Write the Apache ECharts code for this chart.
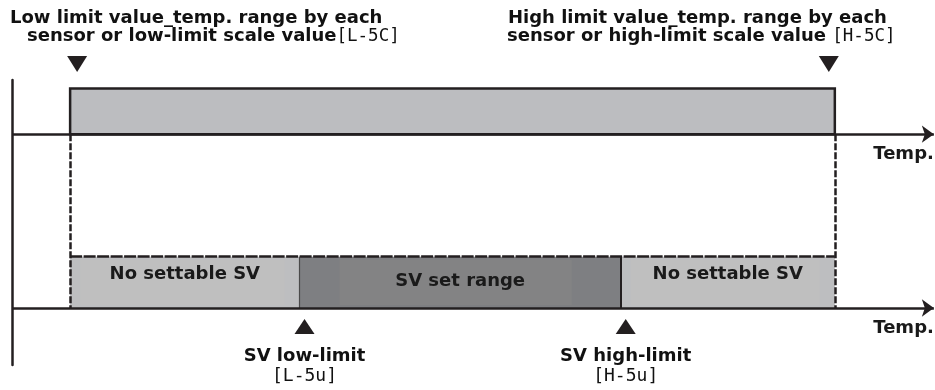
<!DOCTYPE html>
<html><head><meta charset="utf-8">
<script src="https://cdn.jsdelivr.net/npm/echarts@6/dist/echarts.min.js"></script>
<style>html,body{margin:0;padding:0;background:#fff}#c{width:935px;height:390px}</style>
</head><body><div id="c"></div>
<script>
// ---------------- data ----------------
const scaleLimitValues = [0, 100];                 // L-SC, H-SC
const scaleLimitCodes = ['[L-5C]', '[H-5C]'];
const scaleLimitTitles = [
  ['Low limit value_temp. range by each', 'sensor or low-limit scale value'],
  ['High limit value_temp. range by each', 'sensor or high-limit scale value ']
];
const svLimitValues = [30, 72];                    // L-SV, H-SV
const svLimitNames = ['SV low-limit', 'SV high-limit'];
const svLimitCodes = ['[L-5u]', '[H-5u]'];
const segmentNames = ['No settable SV', 'SV set range', 'No settable SV'];
const segmentStart = [0, 30, 72];
const segmentEnd = [30, 72, 100];
const axisName = 'Temp.';

// ---------------- layout / style ----------------
const X_MIN = -7.6, X_MAX = 113.1, Y_MAX = 50;
const LOWER_AXIS = 10, LOWER_TOP = 19, UPPER_AXIS = 40.5, UPPER_TOP = 48.5;
const DOWN_MARK_Y = 52.8, UP_MARK_Y = 6.75, ARROW_END = 112.95;
const INK = '#231f20';
const FONT = '"DejaVu Sans", sans-serif';
const FS = 18;
const SEG_FILL = ['#bdbec0', '#7e7f82', '#bdbec0'];
const SEG_INNER = ['#bfbfbf', '#838384', '#bfbfbf'];
const SEG_INSET = [[10, 15], [40, 49], [10, 15]];

const chart = echarts.init(document.getElementById('c'), null, {renderer: 'canvas'});

const segData = segmentNames.map((n, i) => [segmentStart[i], segmentEnd[i], i]);

function segRender(params, api) {
  const i = api.value(2);
  const p0 = api.coord([api.value(0), LOWER_TOP]);
  const p1 = api.coord([api.value(1), LOWER_AXIS]);
  const w = p1[0] - p0[0], h = p1[1] - p0[1];
  const cx = (p0[0] + p1[0]) / 2;
  const cy = (p0[1] + p1[1]) / 2 + (i === 1 ? -1 : -8);
  const ins = SEG_INSET[i];
  return {
    type: 'group',
    children: [
      {type: 'rect', shape: {x: p0[0], y: p0[1], width: w, height: h}, style: {fill: SEG_FILL[i]}},
      {type: 'rect', shape: {x: p0[0] + ins[0], y: p0[1] + 3, width: w - ins[0] - ins[1], height: h - 6}, style: {fill: SEG_INNER[i]}},
      {type: 'text', x: cx, y: cy,
       style: {text: segmentNames[i], font: 'bold ' + FS + 'px ' + FONT, fill: '#1a1a1a', align: 'center', verticalAlign: 'middle'}}
    ]
  };
}

function scaleRender(params, api) {
  const p0 = api.coord([api.value(0), UPPER_TOP]);
  const p1 = api.coord([api.value(1), UPPER_AXIS]);
  return {type: 'rect', shape: {x: p0[0], y: p0[1], width: p1[0] - p0[0], height: p1[1] - p0[1]},
    style: {fill: '#bcbdc0', stroke: INK, lineWidth: 2.5}};
}

const solid = {type: 'solid', width: 2.5, color: INK};
const dashV = {type: [7, 2], width: 2.5, color: INK};
const dashH = {type: [12, 1.5], width: 2.5, color: INK};

const tempLabel = {show: true, position: 'insideEndBottom', formatter: axisName, distance: [0, 11],
  color: '#1a1a1a', fontWeight: 'bold', fontSize: FS, fontFamily: FONT};

const markLines = [
  ...scaleLimitValues.map(v => [{coord: [v, UPPER_AXIS], symbol: 'none', lineStyle: dashV, label: {show: false}},
                                {coord: [v, LOWER_AXIS], symbol: 'none'}]),
  [{coord: [scaleLimitValues[0], LOWER_TOP], symbol: 'none', lineStyle: dashH, label: {show: false}},
   {coord: [scaleLimitValues[1], LOWER_TOP], symbol: 'none'}],
  ...svLimitValues.map((v, i) => [{coord: [v, LOWER_TOP], symbol: 'none', lineStyle: {type: 'solid', width: i ? 2 : 1.2, color: i ? INK : '#4a4a4a'}, label: {show: false}},
                                  {coord: [v, LOWER_AXIS], symbol: 'none'}]),
  [{coord: [X_MIN, UPPER_AXIS], symbol: 'none', lineStyle: solid, label: tempLabel},
   {coord: [ARROW_END, UPPER_AXIS], symbol: 'arrow', symbolSize: [13, 12]}],
  [{coord: [X_MIN, LOWER_AXIS], symbol: 'none', lineStyle: solid, label: tempLabel},
   {coord: [ARROW_END, LOWER_AXIS], symbol: 'arrow', symbolSize: [13, 12]}]
];

const titleRich = {t: {font: 'bold ' + FS + 'px ' + FONT, fill: '#111'}, c: {font: '17.5px "DejaVu Sans Mono"', fill: '#111'}};

const option = {
  animation: false,
  backgroundColor: '#fff',
  grid: {left: 12, right: 0, top: 80, bottom: 25, containLabel: false},
  xAxis: {type: 'value', min: X_MIN, max: X_MAX, show: false},
  yAxis: {type: 'value', min: 0, max: Y_MAX,
    axisLine: {show: true, onZero: false, lineStyle: {color: INK, width: 2.5}},
    axisTick: {show: false}, axisLabel: {show: false}, splitLine: {show: false}},
  graphic: [
    {type: 'text', left: 10, top: 9, style: {text: scaleLimitTitles[0][0], font: 'bold ' + FS + 'px ' + FONT, fill: '#111'}},
    {type: 'text', left: 27, top: 27, style: {
      text: '{t|' + scaleLimitTitles[0][1] + '}{c|' + scaleLimitCodes[0] + '}', rich: titleRich}},
    {type: 'text', left: 508, top: 9, style: {text: scaleLimitTitles[1][0], font: 'bold ' + FS + 'px ' + FONT, fill: '#111'}},
    {type: 'text', left: 507, top: 27, style: {
      text: '{t|' + scaleLimitTitles[1][1] + '}{c|' + scaleLimitCodes[1] + '}', rich: titleRich}}
  ],
  series: [
    {type: 'custom', name: 'scale', renderItem: scaleRender, data: [scaleLimitValues], clip: false, silent: true, z: 1},
    {type: 'custom', name: 'segments', renderItem: segRender, data: segData, clip: false, silent: true, z: 1},
    {type: 'line', name: 'lines', data: [], z: 3,
      markLine: {silent: true, animation: false, symbol: 'none', precision: 4, data: markLines}},
    {type: 'scatter', name: 'scaleMarks', clip: false, silent: true, z: 4,
      symbol: 'triangle', symbolRotate: 180, symbolSize: [20, 16],
      itemStyle: {color: INK, opacity: 1},
      data: scaleLimitValues.map((v, i) => ({value: [v, DOWN_MARK_Y], symbolOffset: [i ? -6 : 7, 0]}))},
    {type: 'scatter', name: 'svMarks', clip: false, silent: true, z: 4,
      symbol: 'triangle', symbolSize: [20, 15],
      itemStyle: {color: INK, opacity: 1},
      label: {show: true, position: 'bottom', distance: 12,
        formatter: p => '{n|' + svLimitNames[p.dataIndex] + '}\n{c|' + svLimitCodes[p.dataIndex] + '}',
        rich: {n: {fontFamily: FONT, fontWeight: 'bold', fontSize: FS, color: '#111', lineHeight: 20, align: 'center'},
               c: {fontFamily: '"DejaVu Sans Mono"', fontSize: 18, color: '#111', lineHeight: 21, align: 'center'}}},
      data: svLimitValues.map(v => ({value: [v, UP_MARK_Y], symbolOffset: [5, 0]}))}
  ]
};
chart.setOption(option);
</script></body></html>
